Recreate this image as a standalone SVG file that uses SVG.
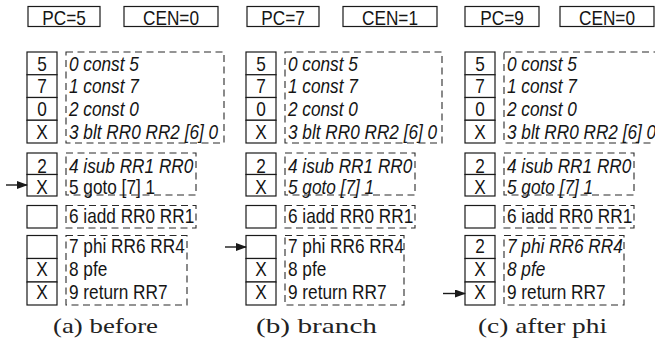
<svg xmlns="http://www.w3.org/2000/svg" width="655" height="345" viewBox="0 0 655 345">
<style>
.bg{fill:#fff}
.box{fill:#fff;stroke:#1a1a1a;stroke-width:1.2}
.dash{fill:none;stroke:#2a2a2a;stroke-width:1.1;stroke-dasharray:7 4.5}
.t{font-family:"Liberation Sans",Arial,sans-serif;font-size:21px;fill:#151515}
.i{font-style:italic}
.m{text-anchor:middle}
.cap{font-family:"Liberation Serif","Times New Roman",serif;font-size:21px;fill:#222}
.arr{stroke:#1a1a1a;stroke-width:1.4;fill:none}
</style>
<defs>
<marker id="ah" markerWidth="11" markerHeight="8" refX="10" refY="4" orient="auto" markerUnits="userSpaceOnUse">
<path d="M0,0 L11,4 L0,8 Z" fill="#1a1a1a"/>
</marker>
</defs>
<rect class="bg" x="0" y="0" width="655" height="345"/>

<!-- Panel A -->
<g id="panelA">
<g id="a-pc"><rect class="box" x="28" y="6.5" width="72" height="20"/><text class="t m" transform="translate(64 24.5) scale(.82 1)">PC=5</text></g>
<g id="a-cen"><rect class="box" x="124" y="6.5" width="94" height="20"/><text class="t m" transform="translate(171 24.5) scale(.82 1)">CEN=0</text></g>
<g id="a-blocks">
<rect class="dash" x="66" y="52" width="158" height="91"/>
<rect class="dash" x="66" y="153" width="130" height="42"/>
<rect class="dash" x="66" y="205.5" width="130" height="22.5"/>
<rect class="dash" x="66" y="235.5" width="121" height="69.5"/>
</g>
<g id="a-r0"><rect class="box" x="27" y="52" width="30" height="22.75"/><text class="t m" transform="translate(42 70.5) scale(.82 1)">5</text><text class="t i" transform="translate(69 70.5) scale(.82 1)">0 const 5</text></g>
<g id="a-r1"><rect class="box" x="27" y="74.75" width="30" height="22.75"/><text class="t m" transform="translate(42 93) scale(.82 1)">7</text><text class="t i" transform="translate(69 93) scale(.82 1)">1 const 7</text></g>
<g id="a-r2"><rect class="box" x="27" y="97.5" width="30" height="22.75"/><text class="t m" transform="translate(42 116) scale(.82 1)">0</text><text class="t i" transform="translate(69 116) scale(.82 1)">2 const 0</text></g>
<g id="a-r3"><rect class="box" x="27" y="120.25" width="30" height="22.75"/><text class="t m" transform="translate(42 138.5) scale(.82 1)">X</text><text class="t i" transform="translate(69 138.5) scale(.82 1)">3 blt RR0 RR2 [6] 0</text></g>
<g id="a-r4"><rect class="box" x="27" y="153" width="30" height="21.5"/><text class="t m" transform="translate(42 172.5) scale(.82 1)">2</text><text class="t i" transform="translate(69 172.5) scale(.82 1)">4 isub RR1 RR0</text></g>
<g id="a-r5"><rect class="box" x="27" y="174.5" width="30" height="21.5"/><text class="t m" transform="translate(42 193.5) scale(.82 1)">X</text><text class="t" transform="translate(69 193.5) scale(.82 1)">5 goto [7] 1</text></g>
<g id="a-r6"><rect class="box" x="27" y="205.5" width="30" height="22.5"/><text class="t" transform="translate(69 222.5) scale(.82 1)">6 iadd RR0 RR1</text></g>
<g id="a-r7"><rect class="box" x="27" y="235.5" width="30" height="23"/><text class="t" transform="translate(69 253) scale(.82 1)">7 phi RR6 RR4</text></g>
<g id="a-r8"><rect class="box" x="27" y="258.5" width="30" height="23.5"/><text class="t m" transform="translate(42 276) scale(.82 1)">X</text><text class="t" transform="translate(69 276) scale(.82 1)">8 pfe</text></g>
<g id="a-r9"><rect class="box" x="27" y="282" width="30" height="23"/><text class="t m" transform="translate(42 299) scale(.82 1)">X</text><text class="t" transform="translate(69 299) scale(.82 1)">9 return RR7</text></g>
<text class="cap" x="53" y="333" textLength="105" lengthAdjust="spacingAndGlyphs">(a) before</text>
</g>

<!-- Panel B -->
<g id="panelB">
<g id="b-pc"><rect class="box" x="247" y="6.5" width="72" height="20"/><text class="t m" transform="translate(283 24.5) scale(.82 1)">PC=7</text></g>
<g id="b-cen"><rect class="box" x="343" y="6.5" width="94" height="20"/><text class="t m" transform="translate(390 24.5) scale(.82 1)">CEN=1</text></g>
<g id="b-blocks">
<rect class="dash" x="285" y="52" width="157" height="91"/>
<rect class="dash" x="285" y="153" width="130" height="42"/>
<rect class="dash" x="285" y="205.5" width="130" height="22.5"/>
<rect class="dash" x="285" y="235.5" width="119" height="69.5"/>
</g>
<g id="b-r0"><rect class="box" x="246" y="52" width="30" height="22.75"/><text class="t m" transform="translate(261 70.5) scale(.82 1)">5</text><text class="t i" transform="translate(288 70.5) scale(.82 1)">0 const 5</text></g>
<g id="b-r1"><rect class="box" x="246" y="74.75" width="30" height="22.75"/><text class="t m" transform="translate(261 93) scale(.82 1)">7</text><text class="t i" transform="translate(288 93) scale(.82 1)">1 const 7</text></g>
<g id="b-r2"><rect class="box" x="246" y="97.5" width="30" height="22.75"/><text class="t m" transform="translate(261 116) scale(.82 1)">0</text><text class="t i" transform="translate(288 116) scale(.82 1)">2 const 0</text></g>
<g id="b-r3"><rect class="box" x="246" y="120.25" width="30" height="22.75"/><text class="t m" transform="translate(261 138.5) scale(.82 1)">X</text><text class="t i" transform="translate(288 138.5) scale(.82 1)">3 blt RR0 RR2 [6] 0</text></g>
<g id="b-r4"><rect class="box" x="246" y="153" width="30" height="21.5"/><text class="t m" transform="translate(261 172.5) scale(.82 1)">2</text><text class="t i" transform="translate(288 172.5) scale(.82 1)">4 isub RR1 RR0</text></g>
<g id="b-r5"><rect class="box" x="246" y="174.5" width="30" height="21.5"/><text class="t m" transform="translate(261 193.5) scale(.82 1)">X</text><text class="t i" transform="translate(288 193.5) scale(.82 1)">5 goto [7] 1</text></g>
<g id="b-r6"><rect class="box" x="246" y="205.5" width="30" height="22.5"/><text class="t" transform="translate(288 222.5) scale(.82 1)">6 iadd RR0 RR1</text></g>
<g id="b-r7"><rect class="box" x="246" y="235.5" width="30" height="23"/><text class="t" transform="translate(288 253) scale(.82 1)">7 phi RR6 RR4</text></g>
<g id="b-r8"><rect class="box" x="246" y="258.5" width="30" height="23.5"/><text class="t m" transform="translate(261 276) scale(.82 1)">X</text><text class="t" transform="translate(288 276) scale(.82 1)">8 pfe</text></g>
<g id="b-r9"><rect class="box" x="246" y="282" width="30" height="23"/><text class="t m" transform="translate(261 299) scale(.82 1)">X</text><text class="t" transform="translate(288 299) scale(.82 1)">9 return RR7</text></g>
<text class="cap" x="256" y="333" textLength="121" lengthAdjust="spacingAndGlyphs">(b) branch</text>
</g>

<!-- Panel C -->
<g id="panelC">
<g id="c-pc"><rect class="box" x="465" y="6.5" width="74" height="20"/><text class="t m" transform="translate(502 24.5) scale(.82 1)">PC=9</text></g>
<g id="c-cen"><rect class="box" x="560" y="6.5" width="94" height="20"/><text class="t m" transform="translate(607 24.5) scale(.82 1)">CEN=0</text></g>
<g id="c-blocks">
<rect class="dash" x="504" y="52" width="160" height="91"/>
<rect class="dash" x="504" y="153" width="130" height="42"/>
<rect class="dash" x="504" y="205.5" width="130" height="22.5"/>
<rect class="dash" x="504" y="235.5" width="120" height="69.5"/>
</g>
<g id="c-r0"><rect class="box" x="465" y="52" width="30" height="22.75"/><text class="t m" transform="translate(480 70.5) scale(.82 1)">5</text><text class="t i" transform="translate(507 70.5) scale(.82 1)">0 const 5</text></g>
<g id="c-r1"><rect class="box" x="465" y="74.75" width="30" height="22.75"/><text class="t m" transform="translate(480 93) scale(.82 1)">7</text><text class="t i" transform="translate(507 93) scale(.82 1)">1 const 7</text></g>
<g id="c-r2"><rect class="box" x="465" y="97.5" width="30" height="22.75"/><text class="t m" transform="translate(480 116) scale(.82 1)">0</text><text class="t i" transform="translate(507 116) scale(.82 1)">2 const 0</text></g>
<g id="c-r3"><rect class="box" x="465" y="120.25" width="30" height="22.75"/><text class="t m" transform="translate(480 138.5) scale(.82 1)">X</text><text class="t i" transform="translate(507 138.5) scale(.82 1)">3 blt RR0 RR2 [6] 0</text></g>
<g id="c-r4"><rect class="box" x="465" y="153" width="30" height="21.5"/><text class="t m" transform="translate(480 172.5) scale(.82 1)">2</text><text class="t i" transform="translate(507 172.5) scale(.82 1)">4 isub RR1 RR0</text></g>
<g id="c-r5"><rect class="box" x="465" y="174.5" width="30" height="21.5"/><text class="t m" transform="translate(480 193.5) scale(.82 1)">X</text><text class="t i" transform="translate(507 193.5) scale(.82 1)">5 goto [7] 1</text></g>
<g id="c-r6"><rect class="box" x="465" y="205.5" width="30" height="22.5"/><text class="t" transform="translate(507 222.5) scale(.82 1)">6 iadd RR0 RR1</text></g>
<g id="c-r7"><rect class="box" x="465" y="235.5" width="30" height="23"/><text class="t m" transform="translate(480 253) scale(.82 1)">2</text><text class="t i" transform="translate(507 253) scale(.82 1)">7 phi RR6 RR4</text></g>
<g id="c-r8"><rect class="box" x="465" y="258.5" width="30" height="23.5"/><text class="t m" transform="translate(480 276) scale(.82 1)">X</text><text class="t i" transform="translate(507 276) scale(.82 1)">8 pfe</text></g>
<g id="c-r9"><rect class="box" x="465" y="282" width="30" height="23"/><text class="t m" transform="translate(480 299) scale(.82 1)">X</text><text class="t" transform="translate(507 299) scale(.82 1)">9 return RR7</text></g>
<text class="cap" x="478" y="333" textLength="129" lengthAdjust="spacingAndGlyphs">(c) after phi</text>
</g>

<g id="connectors">
<line class="arr" x1="6" y1="185" x2="27" y2="185" marker-end="url(#ah)"/>
<line class="arr" x1="225" y1="247" x2="246" y2="247" marker-end="url(#ah)"/>
<line class="arr" x1="443" y1="293.5" x2="465" y2="293.5" marker-end="url(#ah)"/>
</g>
</svg>
